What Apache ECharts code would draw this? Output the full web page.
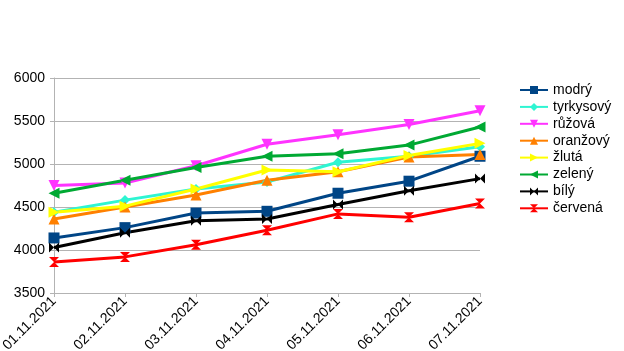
<!DOCTYPE html>
<html lang="cs">
<head>
    <meta charset="UTF-8">
    <title>Graf</title>
    <script src="https://cdn.jsdelivr.net/npm/echarts@6/dist/echarts.min.js"></script>
    <style>
        html, body { margin: 0; padding: 0; background: #fff; }
    </style>
</head>
<body>
<div id="main" style="width: 624px;height:351px;"></div>
<script>
    // dny
    var dates = ['01.11.2021', '02.11.2021', '03.11.2021', '04.11.2021', '05.11.2021', '06.11.2021', '07.11.2021'];

    // hodnoty jednotlivych rad
    var modry = [4140, 4260, 4430, 4450, 4660, 4800, 5090];
    var tyrkysovy = [4440, 4580, 4710, 4790, 5020, 5090, 5200];
    var ruzova = [4750, 4780, 4980, 5230, 5340, 5460, 5620];
    var oranzovy = [4360, 4500, 4640, 4810, 4910, 5080, 5110];
    var zluta = [4440, 4510, 4710, 4930, 4910, 5100, 5240];
    var zeleny = [4660, 4810, 4960, 5090, 5120, 5220, 5430];
    var bily = [4030, 4200, 4340, 4360, 4530, 4690, 4830];
    var cervena = [3860, 3920, 4060, 4230, 4420, 4380, 4540];

    var yTicks = [3500, 4000, 4500, 5000, 5500, 6000];

    var bowtie = 'path://M0,0 L10,10 L10,0 L0,10 Z';
    var hourglass = 'path://M0,0 L10,0 L0,10 L10,10 Z';

    function rada(name, data, color, symbol, rotate, size) {
        return {
            name: name,
            type: 'line',
            data: data,
            symbol: symbol,
            symbolSize: size || 10,
            symbolRotate: rotate || 0,
            showAllSymbol: true,
            itemStyle: { color: color },
            lineStyle: { color: color, width: 3 }
        };
    }

    var myChart = echarts.init(document.getElementById('main'));
    var option = {
        animation: false,
        textStyle: { fontFamily: 'Liberation Sans' },
        grid: { left: 54, right: 144, top: 78, bottom: 58, outerBoundsMode: 'none', containLabel: false },
        legend: {
            orient: 'vertical',
            left: 514,
            top: 78,
            itemWidth: 28,
            itemHeight: 10,
            itemGap: 2.9,
            textStyle: { fontSize: 14, color: '#000', fontFamily: 'Liberation Sans' },
            data: ['modrý', 'tyrkysový', 'růžová', 'oranžový', 'žlutá', 'zelený', 'bílý', 'červená']
        },
        xAxis: {
            type: 'category',
            boundaryGap: false,
            data: dates,
            axisLine: { lineStyle: { color: '#b3b3b3' } },
            axisTick: { show: true, length: 4, lineStyle: { color: '#b3b3b3' } },
            axisLabel: { rotate: 45, fontSize: 14, color: '#000', margin: 6 },
            splitLine: { show: false }
        },
        yAxis: {
            type: 'value',
            min: yTicks[0],
            max: yTicks[yTicks.length - 1],
            interval: 500,
            axisLine: { show: true, lineStyle: { color: '#b3b3b3' } },
            axisTick: { show: true, length: 4, lineStyle: { color: '#b3b3b3' } },
            axisLabel: { fontSize: 14, color: '#000', margin: 9, formatter: function (v) { return String(v); } },
            splitLine: { lineStyle: { color: '#b3b3b3' } }
        },
        series: [
            rada('modrý', modry, '#004586', 'rect', 0, 11),
            rada('tyrkysový', tyrkysovy, '#2ef5d2', 'diamond', 0, 10),
            rada('růžová', ruzova, '#ff33ff', 'triangle', 180, 11),
            rada('oranžový', oranzovy, '#ff8000', 'triangle', 0, 11),
            rada('žlutá', zluta, '#ffff00', 'triangle', -90, 11),
            rada('zelený', zeleny, '#00a933', 'triangle', 90, 11),
            rada('bílý', bily, '#000000', bowtie, 0, 10),
            rada('červená', cervena, '#ff0000', hourglass, 0, 10)
        ]
    };
    myChart.setOption(option);
</script>
</body>
</html>
